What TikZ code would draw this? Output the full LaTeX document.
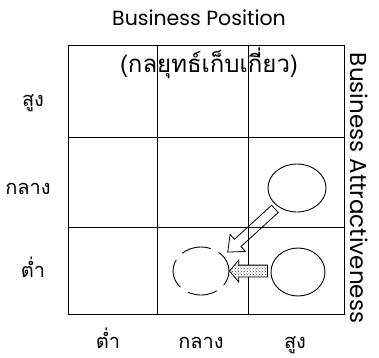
\documentclass[tikz,border=0pt]{standalone}
\usepackage{fontspec}
\setmainfont{Poppins}
\newfontfamily\thaifont[Script=Thai]{Loma}
\usetikzlibrary{shapes.geometric,shapes.arrows,patterns}
\begin{document}
\begin{tikzpicture}[x=1pt,y=-1pt,
  gridline/.style={line width=0.9pt},
  blob/.style={ellipse, draw, line width=0.9pt, inner sep=0pt},
  thailbl/.style={font=\thaifont\fontsize{20}{22}\selectfont, inner sep=0pt, anchor=base},
  latinlbl/.style={font=\fontsize{20.5}{22}\selectfont, inner sep=0pt},
  fatarrow/.style={single arrow, draw, line width=0.8pt, inner xsep=0pt}]
\useasboundingbox (0,0) rectangle (379,357);
% grid
\draw[gridline] (68,45) rectangle (344,314);
\draw[gridline] (157,45) -- (157,314);
\draw[gridline] (248,45) -- (248,314);
\draw[gridline] (68,137) -- (344,137);
\draw[gridline] (68,227) -- (344,227);
% titles
\node[latinlbl] (title) at (199,18) {Business Position};
\node[latinlbl, font=\fontsize{23}{24}\selectfont, rotate=-90] (side) at (359,188) {Business Attractiveness};
\node[thailbl, font=\thaifont\fontsize{24}{26}\selectfont] (strategy) at (209,72) {(กลยุทธ์เก็บเกี่ยว)};
% row labels
\node[thailbl] (rhigh) at (33,106) {สูง};
\node[thailbl] (rmid) at (28,194) {กลาง};
\node[thailbl] (rlow) at (33,277) {ต่ำ};
% column labels
\node[thailbl] (clow) at (108,348) {ต่ำ};
\node[thailbl] (cmid) at (201,348) {กลาง};
\node[thailbl] (chigh) at (295,348) {สูง};
% circles
\node[blob, minimum width=58, minimum height=48] (c1) at (297,188) {};
\node[blob, minimum width=54, minimum height=48] (c2) at (298,272) {};
\node[blob, minimum width=56, minimum height=48, dash pattern=on 30pt off 9pt, dash phase=8pt] (c3) at (201,271) {};
% arrows
\node[fatarrow, inner ysep=4.5pt, minimum height=64, single arrow head extend=6.5pt, single arrow tip angle=80, rotate=222.5] (a1) at (253.5,228.5) {};
\node[fatarrow, inner ysep=5.5pt, minimum height=38, single arrow head extend=5pt, single arrow tip angle=100, rotate=180, preaction={fill=white}, pattern=crosshatch dots, pattern color=black!70] (a2) at (251,271) {};
\end{tikzpicture}
\end{document}
